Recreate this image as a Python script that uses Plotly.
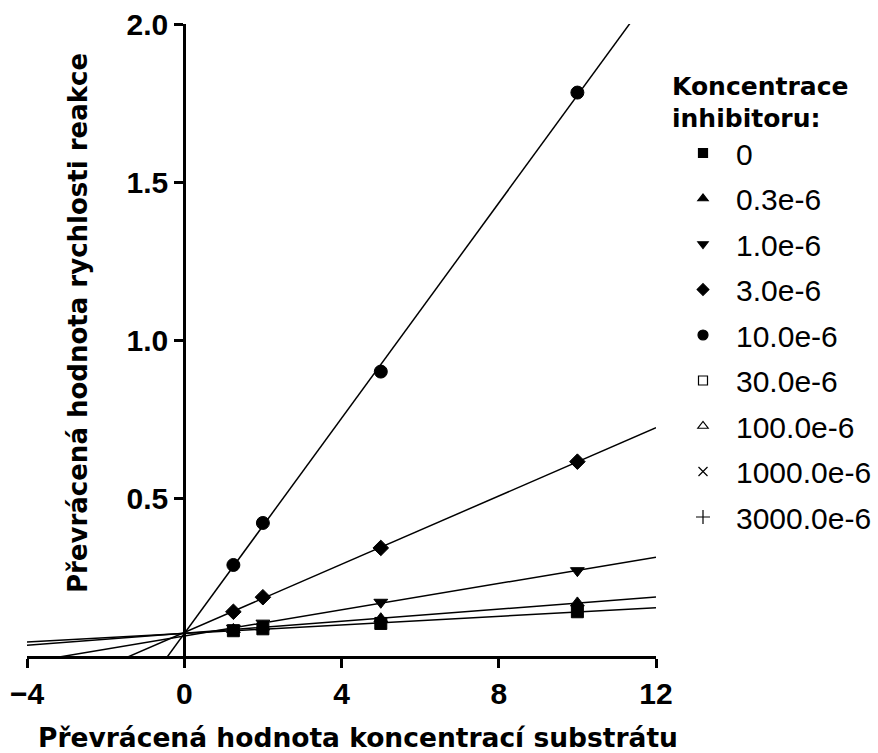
import numpy as np
import plotly.graph_objects as go

# ---------------- data ----------------
substrate_inv = [1.25, 2.0, 5.0, 10.0]          # 1/[S]
rate_inv_0 = [0.080, 0.086, 0.103, 0.140]       # 1/v, inhibitor 0
rate_inv_0_3e6 = [0.084, 0.092, 0.118, 0.168]   # 0.3e-6
rate_inv_1_0e6 = [0.088, 0.104, 0.170, 0.270]   # 1.0e-6
rate_inv_3_0e6 = [0.140, 0.186, 0.342, 0.615]   # 3.0e-6
rate_inv_10_0e6 = [0.288, 0.421, 0.900, 1.783]  # 10.0e-6

legend_labels = ["0", "0.3e-6", "1.0e-6", "3.0e-6", "10.0e-6",
                 "30.0e-6", "100.0e-6", "1000.0e-6", "3000.0e-6"]
x_ticks = [-4, 0, 4, 8, 12]
y_ticks = [0.5, 1.0, 1.5, 2.0]
x_range = [-4, 12]
y_range = [0, 2]

series_values = [rate_inv_0, rate_inv_0_3e6, rate_inv_1_0e6, rate_inv_3_0e6, rate_inv_10_0e6]

# ---------------- styles ----------------
data_symbols = ["square", "triangle-up", "triangle-down", "diamond", "circle"]
data_sizes = [12, 12, 12, 12, 13]
legend_symbols = ["square", "triangle-up", "triangle-down", "diamond", "circle",
                  "square-open", "triangle-up-open", "x-thin-open", "cross-thin-open"]
legend_sizes = [9, 9, 9, 9, 10, 9, 9, 9, 10]

fig = go.Figure()

# fitted regression lines (Lineweaver-Burk)
for vals in series_values:
    slope, icpt = np.polyfit(substrate_inv, vals, 1)
    xl = np.array(x_range, dtype=float)
    fig.add_trace(go.Scatter(x=xl, y=slope * xl + icpt, mode="lines",
                             line=dict(color="black", width=1.5),
                             showlegend=False, hoverinfo="skip"))

# data points
for vals, sym, sz in zip(series_values, data_symbols, data_sizes):
    fig.add_trace(go.Scatter(x=substrate_inv, y=vals, mode="markers",
                             marker=dict(symbol=sym, size=sz, color="black",
                                         line=dict(color="black", width=1)),
                             showlegend=False))

# legend entries
for i, (lab, sym, sz) in enumerate(zip(legend_labels, legend_symbols, legend_sizes)):
    fig.add_trace(go.Scatter(x=[None], y=[None], mode="markers", name=lab,
                             legendgroup=f"g{i}",
                             marker=dict(symbol=sym, size=sz, color="black",
                                         line=dict(color="black", width=1.2))))

L, R, T, B = 27, 222, 24, 97
W, H = 878, 753
pw, ph = W - L - R, H - T - B

def px_x(px):
    return (px - L) / pw

def px_y(py):
    return (H - B - py) / ph

axis_font = dict(family="Liberation Sans", size=30, color="black", weight="bold")
xtitle_font = dict(family="DejaVu Sans", size=26.5, color="black", weight="bold")
ytitle_font = dict(family="DejaVu Sans", size=26, color="black", weight="bold")
legend_title_font = dict(family="DejaVu Sans", size=25, color="black", weight="bold")

fig.update_layout(
    width=W, height=H,
    margin=dict(l=L, r=R, t=T, b=B, autoexpand=False),
    paper_bgcolor="white", plot_bgcolor="white",
    xaxis=dict(range=x_range, tickvals=x_ticks, ticks="outside", ticklen=9,
               tickwidth=3, tickcolor="black", showline=True, linewidth=3,
               linecolor="black", showgrid=False, zeroline=False,
               tickfont=axis_font),
    yaxis=dict(range=y_range, tickvals=y_ticks, tickformat=".1f", ticks="outside",
               ticklen=9, tickwidth=3, tickcolor="black", showline=True,
               linewidth=3, linecolor="black", showgrid=False, zeroline=False,
               anchor="free",
               position=(0 - x_range[0]) / (x_range[1] - x_range[0]),
               tickfont=axis_font),
    legend=dict(x=px_x(670), y=px_y(62), xanchor="left", yanchor="top",
                title=dict(text="Koncentrace<br>inhibitoru:", font=legend_title_font),
                font=dict(family="Liberation Sans", size=30, color="black"),
                traceorder="grouped", tracegroupgap=3.5, itemwidth=56,
                bgcolor="rgba(0,0,0,0)"),
    annotations=[
        dict(text="Převrácená hodnota koncentrací substrátu", xref="paper", yref="paper",
             x=px_x(358), y=px_y(737), xanchor="center", yanchor="middle",
             showarrow=False, font=xtitle_font),
        dict(text="Převrácená hodnota rychlosti reakce", xref="paper", yref="paper",
             x=px_x(78), y=px_y(323), xanchor="center", yanchor="middle",
             textangle=-90, showarrow=False, font=ytitle_font),
    ],
)

fig.write_html("out.html")
